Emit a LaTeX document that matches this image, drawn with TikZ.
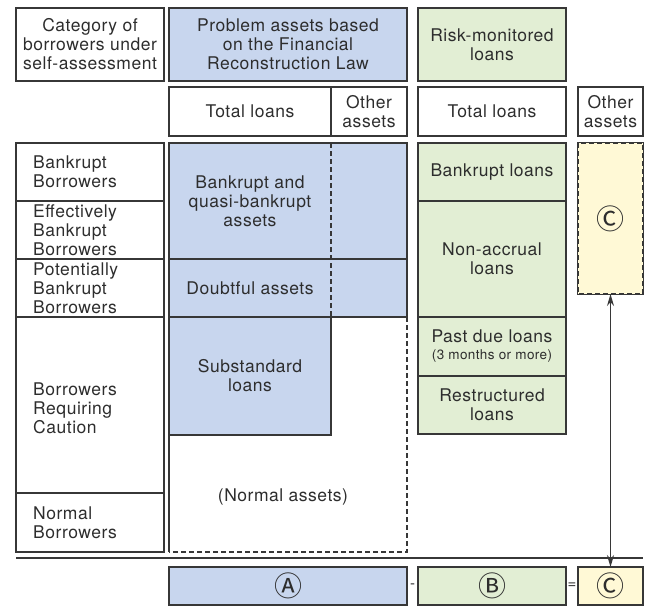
\documentclass[tikz,border=0pt]{standalone}
\usepackage{fontspec}
\setmainfont{TeX Gyre Heros}[LetterSpace=3]
\newfontfamily\symfont{Noto Sans CJK JP}
\usetikzlibrary{arrows.meta}
\definecolor{bluef}{RGB}{200,214,238}
\definecolor{greenf}{RGB}{226,238,212}
\definecolor{yellowf}{RGB}{255,249,214}
\definecolor{linec}{RGB}{55,55,55}
\definecolor{textc}{RGB}{45,45,45}
\tikzset{
  cell/.style={draw=linec, line width=1.2pt, inner sep=0pt, outer sep=0pt, anchor=north west,
    text=textc, align=center, font=\fontsize{17.5}{19}\selectfont},
  bluecell/.style={cell, fill=bluef},
  greencell/.style={cell, fill=greenf},
  yellowcell/.style={cell, fill=yellowf},
  plain/.style={inner sep=0pt, text=textc, align=center, font=\fontsize{17.5}{19}\selectfont},
  dashline/.style={draw=linec, line width=1.2pt, dash pattern=on 5pt off 3pt},
  sym/.style={inner sep=0pt, text=textc, font=\symfont\fontsize{28}{28}\selectfont}
}
\newcommand{\cellbox}[7]{% style, name, x1, y1, x2, y2, text
  \pgfmathsetmacro{\cw}{#5-#3}\pgfmathsetmacro{\ch}{#6-#4}%
  \node[#1, minimum width=\cw pt, minimum height=\ch pt] (#2) at (#3,#4) {#7};}
\begin{document}
\begin{tikzpicture}[x=1pt,y=-1pt]
\useasboundingbox (0,0) rectangle (648,606);
% headers
\cellbox{cell}{hcat}{16}{8}{164}{81}{Category of\\borrowers under\\self-assessment}
\cellbox{bluecell}{hfrl}{169}{8}{407}{81}{Problem assets based\\on the Financial\\Reconstruction Law}
\cellbox{greencell}{hrml}{418}{8}{566}{81}{Risk-monitored\\loans}
\cellbox{cell}{tla}{169}{87}{331}{136}{Total loans}
\cellbox{cell}{oaa}{331}{87}{407}{136}{Other\\assets}
\cellbox{cell}{tlb}{418}{87}{566}{136}{Total loans}
\cellbox{cell}{oab}{578}{87}{643}{136}{Other\\assets}
% left column
\cellbox{cell}{lbk}{16}{143}{164}{201}{}
\cellbox{cell}{leb}{16}{201}{164}{259}{}
\cellbox{cell}{lpb}{16}{259}{164}{317}{}
\cellbox{cell}{lrc}{16}{317}{164}{493}{}
\cellbox{cell}{lnb}{16}{493}{164}{552}{}
\node[plain, anchor=west, align=left] at ([xshift=17pt]lbk.west) {Bankrupt\\Borrowers};
\node[plain, anchor=west, align=left] at ([xshift=17pt]leb.west) {Effectively\\Bankrupt\\Borrowers};
\node[plain, anchor=west, align=left] at ([xshift=17pt]lpb.west) {Potentially\\Bankrupt\\Borrowers};
\node[plain, anchor=west, align=left] at ([xshift=17pt,yshift=-3pt]lrc.west) {Borrowers\\Requiring\\Caution};
\node[plain, anchor=west, align=left] at ([xshift=17pt]lnb.west) {Normal\\Borrowers};
% normal assets region (dashed)
\coordinate (nbl) at (169,552);
\coordinate (nbr) at (407,552);
\coordinate (ntr) at (407,317);
\draw[dashline] (ntr) -- (nbr) -- (nbl);
\draw[draw=linec, line width=1.2pt] (169,317) -- (nbl);
\node[plain] (normal) at (283,497) {(Normal assets)};
% blue blocks
\cellbox{bluecell}{bq}{169}{143}{407}{259}{}
\cellbox{bluecell}{da}{169}{259}{407}{317}{}
\cellbox{bluecell}{sl}{169}{317}{331}{435}{Substandard\\loans}
\coordinate (dtop) at (331,143);
\coordinate (dbot) at (331,317);
\draw[dashline] (dtop) -- (dbot);
\node[plain] (bqt) at (250,201) {Bankrupt and\\quasi-bankrupt\\assets};
\node[plain] (dat) at (250,288) {Doubtful assets};
% green blocks
\cellbox{greencell}{gbl}{418}{143}{566}{201}{Bankrupt loans}
\cellbox{greencell}{gna}{418}{201}{566}{317}{Non-accrual\\loans}
\cellbox{greencell}{gpd}{418}{317}{566}{376}{Past due loans\\[-2pt]{\fontsize{13.5}{15}\selectfont (3 months or more)}}
\cellbox{greencell}{grl}{418}{376}{566}{434}{Restructured\\loans}
% C other assets
\cellbox{yellowcell}{cbig}{578}{143}{643}{294}{}
\draw[dashline, fill=yellowf] (cbig.north west) rectangle (cbig.south east);
\node[sym] at (cbig.center) {Ⓒ};
% rule
\coordinate (rl) at (16,558);
\coordinate (rr) at (643,558);
\draw[draw=linec, line width=1.2pt] (rl) -- (rr);
% bottom boxes
\cellbox{bluecell}{ba}{169}{567}{407}{605}{}
\cellbox{greencell}{bb}{418}{567}{566}{605}{}
\cellbox{yellowcell}{bc}{578}{567}{643}{605}{}
\node[sym] at (ba.center) {Ⓐ};
\node[sym] at (bb.center) {Ⓑ};
\node[sym] at (bc.center) {Ⓒ};
\node[plain, font=\fontsize{15}{15}\selectfont] (minus) at (412.5,586) {-};
\node[plain, font=\fontsize{15}{15}\selectfont] (eq) at (572,586) {=};
% arrow
\draw[draw=linec, line width=1.3pt, {Stealth[length=12pt,width=7pt]}-{Stealth[length=12pt,width=7pt]}] (cbig.south) -- (bc.north);
\end{tikzpicture}
\end{document}
